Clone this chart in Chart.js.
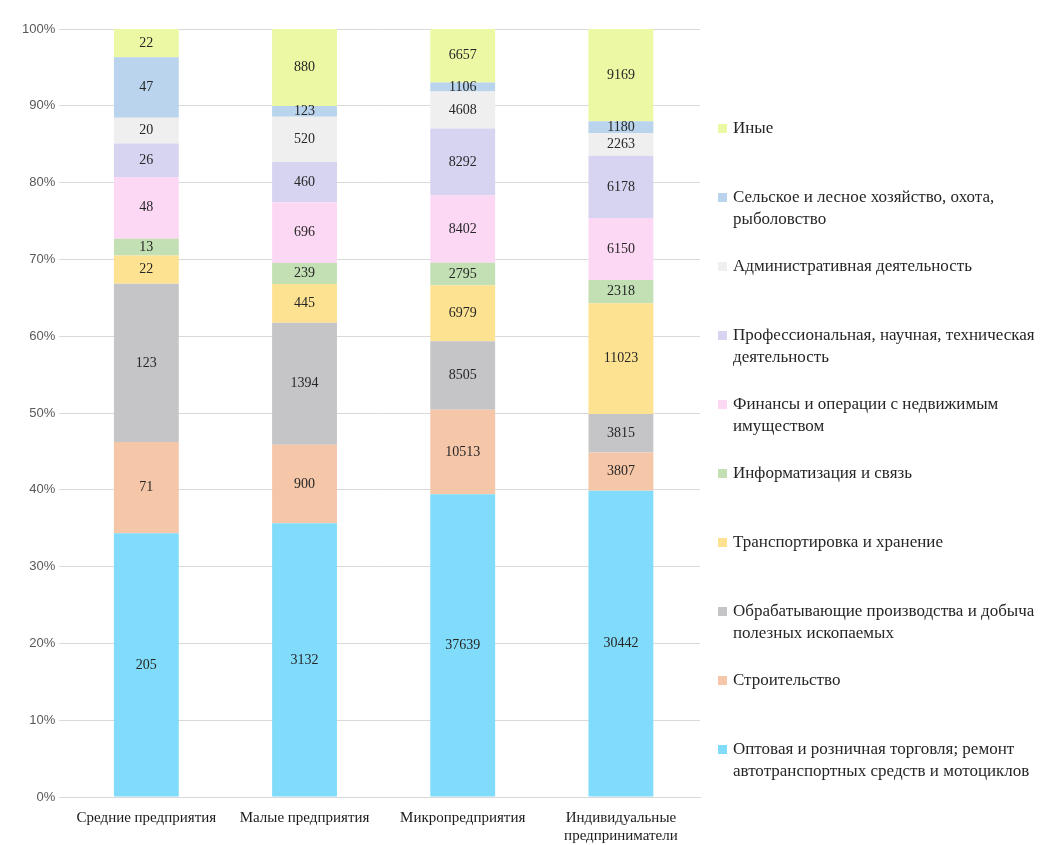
<!DOCTYPE html>
<html>
<head>
<meta charset="utf-8">
<script src="https://cdn.jsdelivr.net/npm/chart.js@4.4.1/dist/chart.umd.min.js"></script>
<style>
  body { margin: 0; background: #fff; }
  #wrap { position: relative; width: 1055px; height: 845px; }
  #legend { position: absolute; left: 718px; top: 117px; font-family: "Liberation Serif", serif; font-size: 17px; color: #262626; }
  .item { height: 69px; display: flex; align-items: flex-start; line-height: 22px; }
  .box { width: 9px; height: 9px; margin: 7px 6px 0 0; flex: none; }
</style>
</head>
<body>
<div id="wrap">
  <canvas id="chart" width="1055" height="845"></canvas>
  <div id="legend"></div>
</div>
<script>
  // categories (x axis)
  const categories = ['Средние предприятия', 'Малые предприятия', 'Микропредприятия', ['Индивидуальные', 'предприниматели']];

  // series, bottom to top of each bar
  const seriesNames = [
    'Оптовая и розничная торговля; ремонт автотранспортных средств и мотоциклов',
    'Строительство',
    'Обрабатывающие производства и добыча полезных ископаемых',
    'Транспортировка и хранение',
    'Информатизация  и связь',
    'Финансы и операции с недвижимым имуществом',
    'Профессиональная, научная, техническая деятельность',
    'Административная деятельность',
    'Сельское и лесное хозяйство, охота, рыболовство',
    'Иные'
  ];
  const trade      = [205, 3132, 37639, 30442];
  const building   = [71, 900, 10513, 3807];
  const industry   = [123, 1394, 8505, 3815];
  const transport  = [22, 445, 6979, 11023];
  const infocom    = [13, 239, 2795, 2318];
  const finance    = [48, 696, 8402, 6150];
  const science    = [26, 460, 8292, 6178];
  const admin      = [20, 520, 4608, 2263];
  const agro       = [47, 123, 1106, 1180];
  const other      = [22, 880, 6657, 9169];
  const seriesValues = [trade, building, industry, transport, infocom, finance, science, admin, agro, other];

  const colors = ['#80dcfa', '#f5c6a8', '#c5c5c7', '#fde292', '#c3e0b4', '#fdd8f4', '#d6d4f0', '#efefef', '#b9d4ec', '#ecf8a4'];

  const yTicks = [0, 10, 20, 30, 40, 50, 60, 70, 80, 90, 100];

  // totals per category to turn values into shares
  const totals = categories.map((c, i) => seriesValues.reduce((s, arr) => s + arr[i], 0));

  const datasets = seriesNames.map((name, k) => ({
    label: name,
    raw: seriesValues[k],
    data: seriesValues[k].map((v, i) => v / totals[i] * 100),
    backgroundColor: colors[k],
    borderWidth: 0,
    barPercentage: 0.41,
    categoryPercentage: 1
  }));

  // draw value labels in the middle of each segment
  const valueLabels = {
    id: 'valueLabels',
    afterDatasetsDraw(chart) {
      const ctx = chart.ctx;
      ctx.save();
      ctx.font = '14px "Liberation Serif", serif';
      ctx.fillStyle = '#262626';
      ctx.textAlign = 'center';
      ctx.textBaseline = 'middle';
      chart.data.datasets.forEach((ds, k) => {
        chart.getDatasetMeta(k).data.forEach((bar, i) => {
          const mid = (bar.y + bar.base) / 2;
          ctx.fillText(ds.raw[i], bar.x, mid);
        });
      });
      ctx.restore();
    }
  };

  const ctx = document.getElementById('chart').getContext('2d');
  new Chart(ctx, {
    type: 'bar',
    data: { labels: categories, datasets: datasets },
    options: {
      responsive: false,
      animation: false,
      layout: { padding: { top: 29, right: 355, left: 18, bottom: 0 } },
      plugins: { legend: { display: false }, tooltip: { enabled: false } },
      scales: {
        x: {
          stacked: true,
          grid: { display: false, drawTicks: false },
          border: { color: '#d9d9d9' },
          afterFit: axis => { axis.height = 48; },
          ticks: { color: '#1a1a1a', font: { family: '"Liberation Serif", serif', size: 15 }, maxRotation: 0, padding: 12 }
        },
        y: {
          stacked: true,
          min: 0,
          max: 100,
          afterBuildTicks: axis => { axis.ticks = yTicks.map(v => ({ value: v })); },
          grid: { color: '#d9d9d9', tickLength: 8 },
          border: { display: false },
          ticks: { color: '#595959', font: { family: '"Liberation Sans", sans-serif', size: 13 }, padding: 4, callback: v => v + '%' }
        }
      }
    },
    plugins: [valueLabels]
  });

  // legend, top entry is the last series
  const legend = document.getElementById('legend');
  for (let k = seriesNames.length - 1; k >= 0; k--) {
    const item = document.createElement('div');
    item.className = 'item';
    const box = document.createElement('span');
    box.className = 'box';
    box.style.background = colors[k];
    const text = document.createElement('span');
    text.textContent = seriesNames[k];
    text.style.width = '318px';
    item.appendChild(box);
    item.appendChild(text);
    legend.appendChild(item);
  }
</script>
</body>
</html>
